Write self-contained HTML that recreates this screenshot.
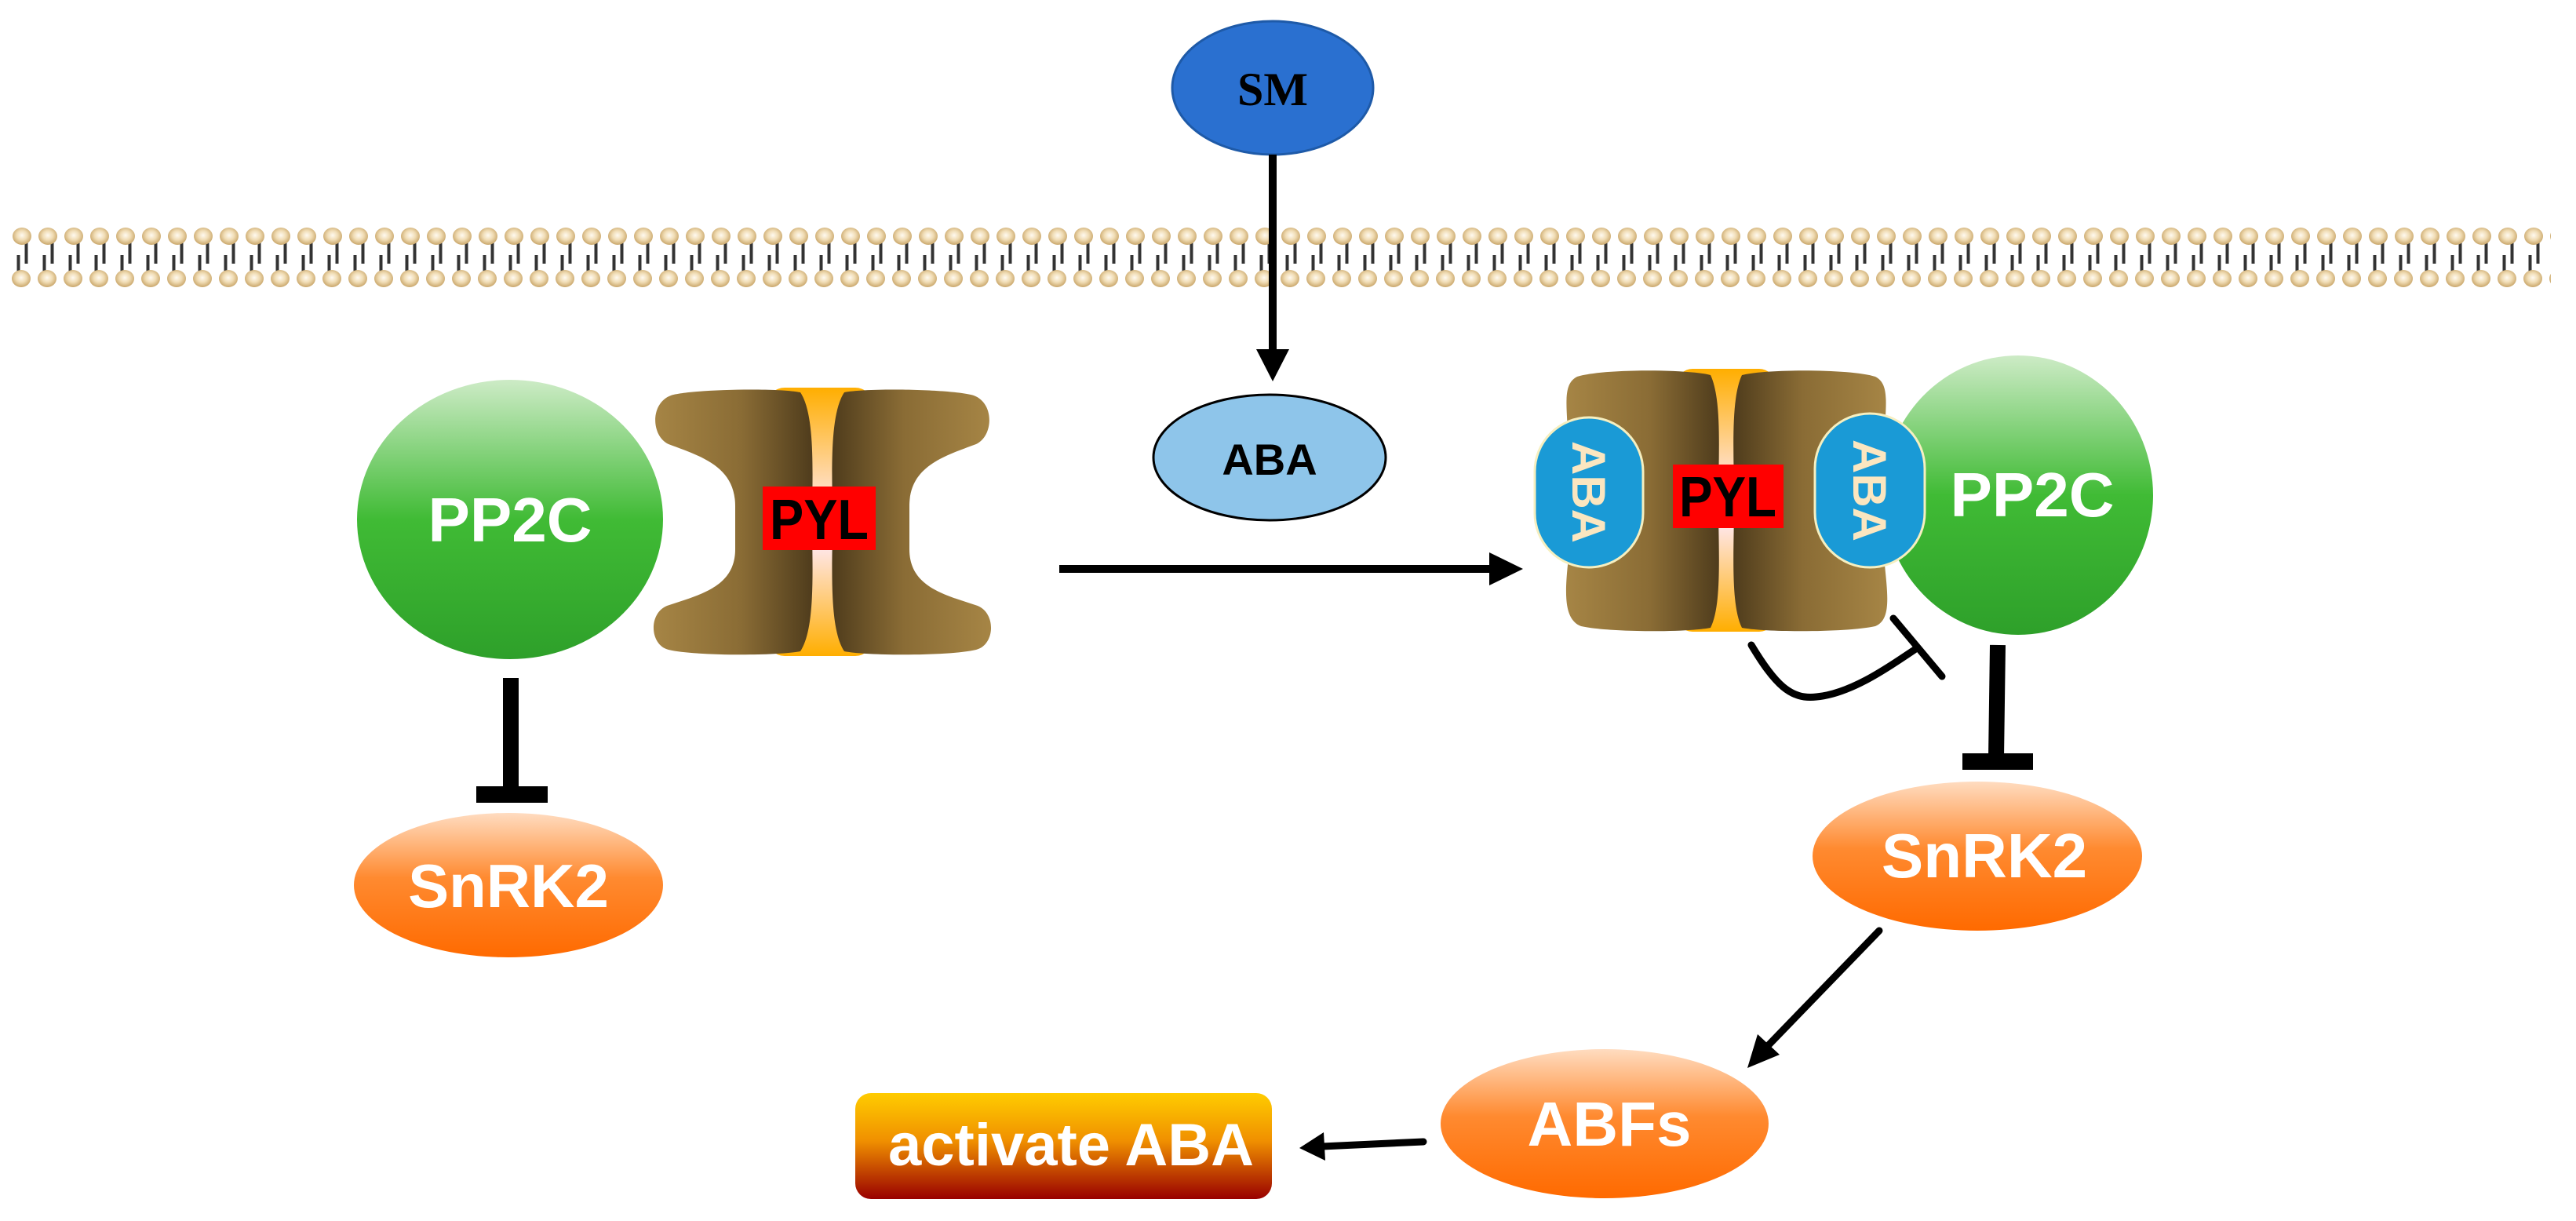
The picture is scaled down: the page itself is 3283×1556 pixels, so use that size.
<!DOCTYPE html>
<html><head><meta charset="utf-8"><style>
html,body{margin:0;padding:0;background:#fff;}
svg{display:block;}
</style></head><body>
<svg width="3283" height="1556" viewBox="0 0 3283 1556" xmlns="http://www.w3.org/2000/svg" font-family="Liberation Sans, Arial, sans-serif">
<defs>
  <radialGradient id="head" cx="50%" cy="45%" r="55%">
    <stop offset="0" stop-color="#fffaf0"/><stop offset="0.5" stop-color="#f0dcb4"/><stop offset="1" stop-color="#c9a66a"/>
  </radialGradient>
  <pattern id="lipid" x="11.5" y="280" width="33" height="90" patternUnits="userSpaceOnUse">
    <rect x="20" y="28" width="4" height="28" fill="#333"/>
    <rect x="10" y="45" width="4" height="24" fill="#333"/>
    <ellipse cx="16.5" cy="21" rx="12" ry="11" fill="url(#head)"/>
    <ellipse cx="15.5" cy="75" rx="12" ry="11" fill="url(#head)"/>
  </pattern>
  <linearGradient id="green" x1="0" y1="0" x2="0" y2="1">
    <stop offset="0" stop-color="#cdebc6"/><stop offset="0.5" stop-color="#40bb35"/><stop offset="1" stop-color="#2ea02a"/>
  </linearGradient>
  <linearGradient id="orange" x1="0" y1="0" x2="0" y2="1">
    <stop offset="0" stop-color="#ffdcc0"/><stop offset="0.45" stop-color="#ff8a30"/><stop offset="1" stop-color="#ff6a00"/>
  </linearGradient>
  <linearGradient id="act" x1="0" y1="0" x2="0" y2="1">
    <stop offset="0" stop-color="#ffcc00"/><stop offset="0.45" stop-color="#f09000"/><stop offset="1" stop-color="#990000"/>
  </linearGradient>
  <linearGradient id="col" x1="0" y1="0" x2="0" y2="1">
    <stop offset="0" stop-color="#ffae00"/><stop offset="0.45" stop-color="#ffe6e6"/><stop offset="0.6" stop-color="#ffe6e6"/><stop offset="1" stop-color="#ffae00"/>
  </linearGradient>
  <linearGradient id="brL" x1="0" y1="0" x2="1" y2="0">
    <stop offset="0" stop-color="#a68545"/><stop offset="0.55" stop-color="#8a6c35"/><stop offset="1" stop-color="#4f3c1c"/>
  </linearGradient>
  <linearGradient id="brR" x1="1" y1="0" x2="0" y2="0">
    <stop offset="0" stop-color="#a68545"/><stop offset="0.55" stop-color="#8a6c35"/><stop offset="1" stop-color="#4f3c1c"/>
  </linearGradient>
</defs>

<!-- membrane -->
<rect x="11" y="280" width="3240" height="90" fill="url(#lipid)"/>

<!-- SM -->
<ellipse cx="1622" cy="112" rx="128" ry="85" fill="#2a70d0" stroke="#1e5aa8" stroke-width="3"/>
<text x="1622" y="134" font-family="Liberation Serif, serif" font-weight="bold" font-size="60" text-anchor="middle" fill="#000">SM</text>
<line x1="1622" y1="197" x2="1622" y2="450" stroke="#000" stroke-width="10"/>
<polygon points="1601,445 1643,445 1622,486" fill="#000"/>

<!-- ABA free -->
<ellipse cx="1618" cy="583" rx="148" ry="80" fill="#8ec5ea" stroke="#000" stroke-width="3"/>
<text x="1618" y="605" font-weight="bold" font-size="56" text-anchor="middle" fill="#000">ABA</text>

<!-- horizontal arrow -->
<line x1="1350" y1="725" x2="1905" y2="725" stroke="#000" stroke-width="10"/>
<polygon points="1898,704 1941,725 1898,746" fill="#000"/>

<!-- Left PP2C -->
<ellipse cx="650" cy="662" rx="195" ry="178" fill="url(#green)"/>
<text x="650" y="690" font-weight="bold" font-size="80" text-anchor="middle" fill="#fff">PP2C</text>

<!-- Left PYL -->
<rect x="978" y="494" width="134" height="342" rx="22" fill="url(#col)"/>
<path d="M1020,500 C990,494 880,496 855,504 C828,514 830,556 852,566 C895,582 937,595 937,645 L937,700 C937,748 892,758 850,772 C826,782 828,822 852,828 C885,836 990,836 1020,830 C1040,800 1035,720 1035,665 C1035,610 1040,530 1020,500 Z" fill="url(#brL)"/>
<path d="M1076,500 C1106,494 1216,496 1241,504 C1268,514 1266,556 1244,566 C1201,582 1159,595 1159,645 L1159,700 C1159,748 1204,758 1246,772 C1270,782 1268,822 1244,828 C1211,836 1106,836 1076,830 C1056,800 1061,720 1061,665 C1061,610 1056,530 1076,500 Z" fill="url(#brR)"/>
<rect x="972" y="620" width="144" height="81" fill="#ff0000"/>
<text x="1044" y="687" font-size="72" font-weight="bold" text-anchor="middle" textLength="126" lengthAdjust="spacingAndGlyphs" fill="#000">PYL</text>

<!-- left inhibition -->
<line x1="651" y1="864" x2="651" y2="1008" stroke="#000" stroke-width="20"/>
<rect x="607" y="1002" width="91" height="21" fill="#000"/>

<!-- Left SnRK2 -->
<ellipse cx="648" cy="1128" rx="197" ry="92" fill="url(#orange)"/>
<text x="648" y="1156" font-weight="bold" font-size="78" text-anchor="middle" fill="#fff">SnRK2</text>

<!-- Right PP2C -->
<ellipse cx="2572" cy="631" rx="172" ry="178" fill="url(#green)"/>
<text x="2590" y="658" font-weight="bold" font-size="80" text-anchor="middle" fill="#fff">PP2C</text>

<!-- Right PYL -->
<rect x="2137" y="470" width="125" height="335" rx="20" fill="url(#col)"/>
<path d="M2180,478 C2150,470 2040,470 2010,480 C1990,490 1998,520 1998,560 L1998,720 C1994,760 1994,790 2015,798 C2050,806 2150,806 2180,800 C2195,770 2190,700 2190,640 C2190,580 2195,510 2180,478 Z" fill="url(#brL)"/>
<path d="M2220,478 C2250,470 2360,470 2390,480 C2410,490 2402,520 2402,560 L2402,720 C2406,760 2410,790 2390,798 C2355,806 2250,806 2220,800 C2205,770 2210,700 2210,640 C2210,580 2205,510 2220,478 Z" fill="url(#brR)"/>
<rect x="2132" y="592" width="141" height="81" fill="#ff0000"/>
<text x="2202" y="658" font-size="72" font-weight="bold" text-anchor="middle" textLength="124" lengthAdjust="spacingAndGlyphs" fill="#000">PYL</text>

<!-- ABA pills -->
<rect x="1956" y="532" width="138" height="191" rx="69" fill="#1a9ad6" stroke="#f6efc0" stroke-width="3"/>
<text transform="translate(2025,627) rotate(90)" font-weight="bold" font-size="60" text-anchor="middle" dy="21" fill="#fbe6c0">ABA</text>
<rect x="2313" y="527" width="140" height="196" rx="70" fill="#1a9ad6" stroke="#f6efc0" stroke-width="3"/>
<text transform="translate(2383,625) rotate(90)" font-weight="bold" font-size="60" text-anchor="middle" dy="21" fill="#fbe6c0">ABA</text>

<!-- curved inhibition -->
<path d="M2232,822 C2262,872 2282,892 2315,888 C2360,884 2410,848 2440,828" fill="none" stroke="#000" stroke-width="9" stroke-linecap="round"/>
<line x1="2413" y1="788" x2="2475" y2="862" stroke="#000" stroke-width="9" stroke-linecap="round"/>

<!-- right inhibition -->
<line x1="2546" y1="822" x2="2544" y2="966" stroke="#000" stroke-width="20"/>
<rect x="2501" y="960" width="90" height="21" fill="#000"/>

<!-- Right SnRK2 -->
<ellipse cx="2520" cy="1091" rx="210" ry="95" fill="url(#orange)"/>
<text x="2529" y="1118" font-weight="bold" font-size="80" text-anchor="middle" fill="#fff">SnRK2</text>

<!-- arrow SnRK2 -> ABFs -->
<line x1="2395" y1="1186" x2="2246" y2="1340" stroke="#000" stroke-width="9" stroke-linecap="round"/>
<polygon points="2227,1361 2240,1318 2268,1344" fill="#000"/>

<!-- ABFs -->
<ellipse cx="2045" cy="1432" rx="209" ry="95" fill="url(#orange)"/>
<text x="2051" y="1460" font-weight="bold" font-size="80" text-anchor="middle" fill="#fff">ABFs</text>

<!-- arrow ABFs -> activate -->
<line x1="1814" y1="1455" x2="1685" y2="1461" stroke="#000" stroke-width="9" stroke-linecap="round"/>
<polygon points="1656,1463 1687,1443 1689,1479" fill="#000"/>

<!-- activate ABA -->
<rect x="1090" y="1393" width="531" height="135" rx="20" fill="url(#act)"/>
<text x="1132" y="1485" font-weight="bold" font-size="76" fill="#fff">activate ABA</text>
</svg>
</body></html>
